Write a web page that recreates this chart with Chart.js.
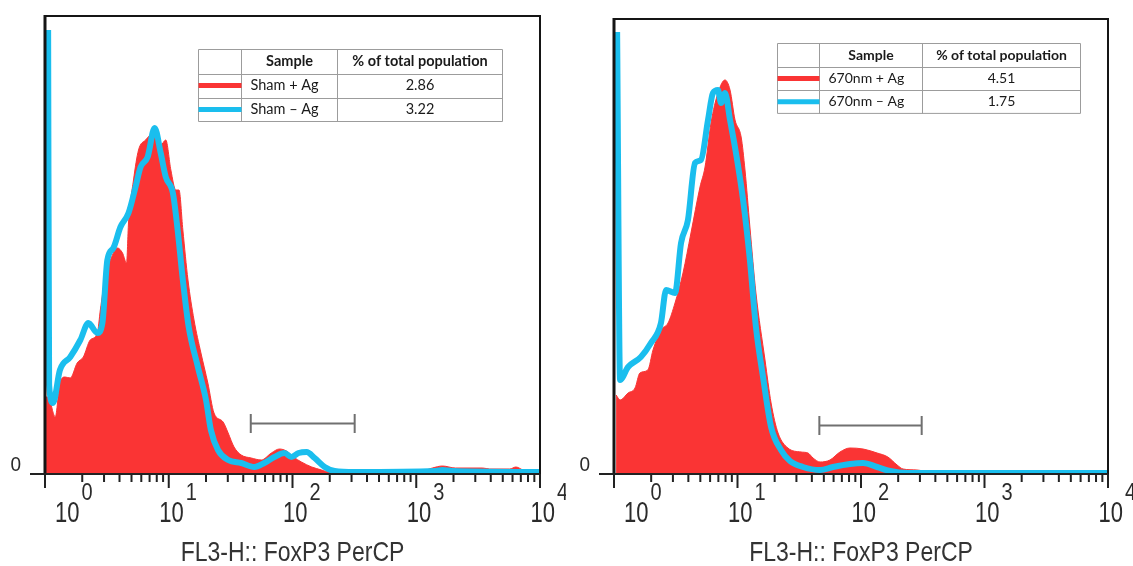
<!DOCTYPE html>
<html>
<head>
<meta charset="utf-8">
<title>FoxP3 PerCP histograms</title>
<script src="https://cdn.jsdelivr.net/npm/chart.js@4.4.1/dist/chart.umd.min.js"></script>
<style>
  html, body { margin: 0; padding: 0; background: #fff; }
  #wrap { position: relative; width: 1133px; height: 566px; overflow: hidden; }
  canvas { position: absolute; top: 0; }
  #shamChart { left: 0; }
  #nmChart { left: 566px; }
</style>
</head>
<body>
<div id="wrap">
  <canvas id="shamChart" width="566" height="566"></canvas>
  <canvas id="nmChart" width="567" height="566"></canvas>
</div>
<script>
// FL3-H (FoxP3 PerCP) intensity vs. event count, one histogram per sample

// Sham + Ag (filled red)
const shamPlusX = [1.02, 1.06, 1.21, 1.32, 1.45, 1.60, 1.82, 2.04, 2.32, 2.65,
  2.80, 3.07, 3.38, 3.85, 4.23, 4.56, 4.73, 5.19, 5.70, 6.50,
  7.55, 8.61, 9.46, 10.4, 11.4, 12.1, 13.0, 14.3, 16.0, 18.2,
  20.7, 23.2, 27.5, 30.2, 33.7, 38.5, 46.4, 56.0, 67.5, 78.4,
  89.4, 102, 118, 143, 172, 196, 529, 1120, 1350, 1630,
  2070, 3440, 3920, 5700, 6380, 7280, 8290, 10000];
const shamPlusY = [76, 76, 56, 90, 96, 95, 110, 116, 133, 140,
  163, 196, 213, 225, 220, 210, 250, 293, 323, 333,
  340, 328, 333, 303, 283, 283, 243, 193, 153, 120,
  90, 60, 51, 40, 26, 18, 15, 13, 20, 24,
  22, 16, 11, 6, 3, 1, 0.5, 2, 5, 7,
  5, 5, 4, 4, 6, 3, 1, 0];

// Sham - Ag (cyan outline)
const shamMinusX = [1.06, 1.08, 1.16, 1.32, 1.60, 1.93, 2.24, 2.65, 2.91, 3.19,
  3.57, 4.07, 4.73, 5.39, 5.92, 6.75, 7.69, 8.61, 9.46, 10.8,
  11.8, 13.0, 14.5, 17.2, 20.0, 21.9, 25.0, 30.2, 38.5, 49.1,
  59.2, 71.4, 86.1, 98.1, 112, 130, 151, 182, 219, 319,
  1430, 1630, 1960, 10000];
const shamMinusY = [443, 88, 70, 103, 116, 133, 150, 140, 150, 213,
  225, 246, 260, 286, 306, 316, 345, 320, 296, 280,
  243, 193, 146, 106, 73, 43, 23, 13, 10, 6,
  10, 16, 20, 16, 20, 21, 15, 6, 2, 1,
  2, 3, 2, 1];

// 670nm + Ag (filled red)
const nm670PlusX = [1.04, 1.12, 1.30, 1.48, 1.62, 1.88, 2.07, 2.40, 2.74, 3.12,
  3.62, 4.20, 4.97, 5.46, 6.10, 6.95, 7.92, 8.70, 9.55, 10.7,
  11.5, 12.6, 14.1, 16.7, 18.7, 21.3, 25.6, 32.7, 37.2, 40.9,
  46.6, 56.1, 67.6, 81.5, 104, 135, 165, 196, 219, 284,
  362, 413, 2810, 2980, 10000];
const nm670PlusY = [78, 73, 80, 85, 100, 103, 123, 143, 150, 170,
  200, 240, 286, 306, 350, 380, 393, 383, 353, 336,
  303, 246, 180, 113, 70, 40, 25, 21, 20, 15,
  11, 13, 21, 25, 24, 20, 16, 8, 4, 3,
  1, 2, 2, 0, 0];

// 670nm - Ag (cyan outline)
const nm670MinusX = [1.06, 1.12, 1.30, 1.65, 1.99, 2.40, 2.64, 3.12, 3.49, 3.97,
  4.53, 5.06, 5.77, 6.33, 6.95, 7.35, 7.92, 8.70, 9.72, 11.1,
  12.6, 14.1, 16.1, 18.7, 22.5, 26.6, 33.9, 46.6, 59.3, 81.5,
  104, 135, 172, 236, 10000];
const nm670MinusY = [441, 93, 106, 116, 130, 150, 183, 180, 230, 253,
  310, 313, 353, 380, 383, 370, 380, 353, 320, 273,
  213, 146, 96, 46, 23, 12, 6, 3, 6, 9,
  10, 6, 2, 0, 0];

// Gate (FL3-H range) and the event level it is drawn at
const shamGate = [46, 318];
const shamGateLevel = 50;
const nm670Gate = [46, 310];
const nm670GateLevel = 48;

// Table contents
const tableHeader = ['Sample', '% of total population'];
const shamSamples = ['Sham + Ag', 'Sham \u2013 Ag'];
const shamPercent = ['2.86', '3.22'];
const nm670Samples = ['670nm + Ag', '670nm \u2013 Ag'];
const nm670Percent = ['4.51', '1.75'];

// Axis ticks
const decadeValues = [1, 10, 100, 1000, 10000];
const decadeExponents = ['0', '1', '2', '3', '4'];
const yZeroLabel = '0';
const axisTitle = 'FL3-H:: FoxP3 PerCP';

const RED = 'rgb(250,52,52)';
const CYAN = 'rgb(26,190,238)';

function pairs(xs, ys) {
  return xs.map((x, i) => ({ x: x, y: ys[i] }));
}

function stretchedText(ctx, text, x, y, font, sy, align, color) {
  ctx.save();
  ctx.font = font;
  ctx.fillStyle = color;
  ctx.textAlign = align;
  ctx.textBaseline = 'alphabetic';
  ctx.translate(x, y);
  ctx.scale(1, sy);
  ctx.fillText(text, 0, 0);
  ctx.restore();
}

const panelDecor = {
  id: 'panelDecor',
  beforeDraw(chart) {
    const ctx = chart.ctx;
    ctx.save();
    ctx.fillStyle = '#fff';
    ctx.fillRect(0, 0, chart.width, chart.height);
    ctx.restore();
  },
  afterDraw(chart, args, o) {
    const ctx = chart.ctx;
    const a = chart.chartArea;
    const xs = chart.scales.x;
    const ys = chart.scales.y;
    ctx.save();

    // gate marker
    const gy = Math.round(ys.getPixelForValue(o.gateLevel)) + 0.5;
    const g0 = xs.getPixelForValue(o.gate[0]);
    const g1 = xs.getPixelForValue(o.gate[1]);
    ctx.strokeStyle = '#707070';
    ctx.lineWidth = 2;
    ctx.beginPath();
    ctx.moveTo(g0, gy); ctx.lineTo(g1, gy);
    ctx.moveTo(g0, gy - 9.5); ctx.lineTo(g0, gy + 9.5);
    ctx.moveTo(g1, gy - 9.5); ctx.lineTo(g1, gy + 9.5);
    ctx.stroke();

    // frame
    ctx.strokeStyle = '#151515';
    ctx.lineWidth = 2;
    ctx.beginPath();
    ctx.moveTo(a.left, a.top); ctx.lineTo(a.right, a.top); ctx.lineTo(a.right, a.bottom + 1);
    ctx.stroke();
    ctx.lineWidth = 3;
    ctx.beginPath();
    ctx.moveTo(a.left, a.top - 1); ctx.lineTo(a.left, a.bottom + 2);
    ctx.stroke();
    // x axis line, extending a little left of the frame
    ctx.lineWidth = 2;
    ctx.strokeStyle = '#222';
    ctx.beginPath();
    ctx.moveTo(a.left - 15, a.bottom + 1); ctx.lineTo(a.right, a.bottom + 1);
    ctx.stroke();

    // log ticks
    ctx.beginPath();
    decadeValues.forEach((d, i) => {
      const px = xs.getPixelForValue(d);
      ctx.moveTo(px, a.bottom + 1); ctx.lineTo(px, a.bottom + 15);
      if (i < decadeValues.length - 1) {
        for (let k = 2; k <= 9; k++) {
          const mx = xs.getPixelForValue(d * k);
          ctx.moveTo(mx, a.bottom + 1); ctx.lineTo(mx, a.bottom + 9);
        }
      }
    });
    ctx.stroke();

    // decade labels: 10 with raised exponent
    ctx.font = '22px "Liberation Sans", Arial, sans-serif';
    const baseW = ctx.measureText('10').width;
    decadeValues.forEach((d, i) => {
      const px = xs.getPixelForValue(d);
      const left = Math.max(px - 9.5, a.left + 10);
      stretchedText(ctx, '10', left, a.bottom + 48.5, '22px "Liberation Sans", Arial, sans-serif', 1.3, 'left', '#2b2b2b');
      stretchedText(ctx, decadeExponents[i], left + baseW + 2, a.bottom + 27, '20px "Liberation Sans", Arial, sans-serif', 1.15, 'left', '#2b2b2b');
    });

    // y zero label
    stretchedText(ctx, yZeroLabel, a.left - 24, a.bottom - 2, '19px "Liberation Sans", Arial, sans-serif', 1.1, 'right', '#2b2b2b');

    // axis title
    stretchedText(ctx, axisTitle, (a.left + a.right) / 2, a.bottom + 88, '23px "Liberation Sans", Arial, sans-serif', 1.2, 'center', '#333');

    // sample table
    const t = o.table;
    const tx = Math.round(a.left + t.dx) + 0.5;
    const ty = Math.round(a.top + t.dy) + 0.5;
    const W = t.cols[0] + t.cols[1] + t.cols[2];
    const H = t.rowH * 3;
    ctx.fillStyle = '#fff';
    ctx.fillRect(tx, ty, W, H);
    ctx.strokeStyle = '#9c9c9c';
    ctx.lineWidth = 1;
    ctx.beginPath();
    ctx.rect(tx, ty, W, H);
    for (let r = 1; r < 3; r++) {
      const ry = Math.round(ty + t.rowH * r) + 0.5;
      ctx.moveTo(tx, ry); ctx.lineTo(tx + W, ry);
    }
    const c1 = tx + t.cols[0];
    const c2 = c1 + t.cols[1];
    ctx.moveTo(c1, ty); ctx.lineTo(c1, ty + H);
    ctx.moveTo(c2, ty); ctx.lineTo(c2, ty + H);
    ctx.stroke();

    const rowColors = [RED, CYAN];
    ctx.lineWidth = 5;
    rowColors.forEach((col, r) => {
      const cy = ty + t.rowH * (r + 1.5);
      ctx.strokeStyle = col;
      ctx.beginPath();
      ctx.moveTo(tx, cy); ctx.lineTo(c1, cy);
      ctx.stroke();
    });

    ctx.fillStyle = '#1a1a1a';
    ctx.textBaseline = 'middle';
    ctx.textAlign = 'center';
    ctx.font = 'bold ' + t.fs + 'px Lato, "Open Sans", sans-serif';
    ctx.fillText(tableHeader[0], c1 + t.cols[1] / 2, ty + t.rowH * 0.5);
    ctx.fillText(tableHeader[1], c2 + t.cols[2] / 2, ty + t.rowH * 0.5);
    ctx.font = t.fs + 'px Lato, "Open Sans", sans-serif';
    t.samples.forEach((s, r) => {
      const cy = ty + t.rowH * (r + 1.5);
      ctx.textAlign = 'left';
      ctx.fillText(s, c1 + 9, cy);
      ctx.textAlign = 'center';
      ctx.fillText(t.values[r], c2 + t.cols[2] / 2, cy);
    });

    ctx.restore();
  }
};

function makePanel(canvasId, p) {
  return new Chart(document.getElementById(canvasId), {
    type: 'line',
    data: {
      datasets: [
        {
          label: p.samples[1],
          data: pairs(p.minusX, p.minusY),
          borderColor: CYAN,
          borderWidth: 6,
          fill: false,
          pointRadius: 0,
          cubicInterpolationMode: 'monotone',
          borderJoinStyle: 'round',
          order: 0
        },
        {
          label: p.samples[0],
          data: pairs(p.plusX, p.plusY),
          borderColor: RED,
          backgroundColor: RED,
          borderWidth: 1,
          fill: 'origin',
          pointRadius: 0,
          cubicInterpolationMode: 'monotone',
          order: 1
        }
      ]
    },
    options: {
      responsive: false,
      animation: false,
      devicePixelRatio: 1,
      layout: { padding: p.padding },
      plugins: {
        legend: { display: false },
        tooltip: { enabled: false },
        panelDecor: {
          gate: p.gate,
          gateLevel: p.gateLevel,
          table: p.table
        }
      },
      scales: {
        x: { type: 'logarithmic', min: 1, max: 10000, display: false },
        y: { type: 'linear', min: 0, max: p.yMax, display: false }
      }
    },
    plugins: [panelDecor]
  });
}

makePanel('shamChart', {
  plusX: shamPlusX, plusY: shamPlusY,
  minusX: shamMinusX, minusY: shamMinusY,
  samples: shamSamples,
  gate: shamGate, gateLevel: shamGateLevel,
  yMax: 457,
  padding: { left: 45, right: 26, top: 16, bottom: 93 },
  table: { dx: 153, dy: 33, cols: [43, 96, 165], rowH: 24, fs: 14.5, samples: shamSamples, values: shamPercent }
});

makePanel('nmChart', {
  plusX: nm670PlusX, plusY: nm670PlusY,
  minusX: nm670MinusX, minusY: nm670MinusY,
  samples: nm670Samples,
  gate: nm670Gate, gateLevel: nm670GateLevel,
  yMax: 454,
  padding: { left: 48, right: 25, top: 19, bottom: 93 },
  table: { dx: 163, dy: 24, cols: [42, 103, 158], rowH: 23.3, fs: 14, samples: nm670Samples, values: nm670Percent }
});
</script>
</body>
</html>
